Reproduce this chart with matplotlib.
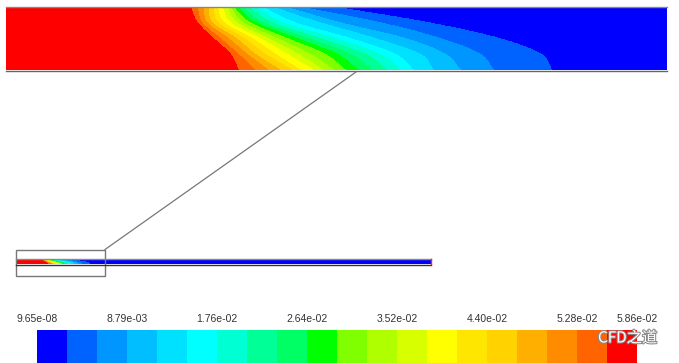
import numpy as np
import matplotlib
matplotlib.use("Agg")
import matplotlib.pyplot as plt
import matplotlib.patheffects as pe
from matplotlib.patches import Rectangle

plt.rcParams['font.family'] = ['Liberation Sans', 'DejaVu Sans']

# contour range and band colours (Fluent-style rainbow, 20 bands)
vmin = 9.65e-08
vmax = 5.862e-02
n_bands = 20
levels = np.linspace(vmin, vmax, n_bands + 1)
band_colors = ['#0000ff', '#0062ff', '#0096ff', '#00beff', '#00e1ff',
               '#00ffff', '#00ffd2', '#00ff96', '#00ff64', '#00ff00',
               '#80ff00', '#b0ff00', '#d8ff00', '#ffff00', '#ffe600',
               '#ffd200', '#ffaf00', '#ff8c00', '#ff6400', '#ff0000']

# band boundary positions (x, px in zoomed view) read at 5 heights, top -> bottom
# each row: boundary 1|2 ... 19|20
row_heights = [0.0, 0.25, 0.5, 0.75, 1.0]
bounds_s0 = [335, 300, 285, 272, 262, 255, 248, 242, 237, 233, 230, 227, 222, 217, 213, 208, 203, 197, 190]
bounds_s25 = [430, 380, 340, 320, 295, 283, 272, 263, 256, 250, 243, 237, 230, 224, 218, 212, 207, 202, 197]
bounds_s50 = [500, 440, 405, 375, 350, 335, 320, 308, 297, 287, 277, 268, 260, 252, 244, 236, 228, 220, 213]
bounds_s75 = [541, 480, 445, 420, 395, 380, 365, 350, 337, 325, 310, 298, 287, 275, 265, 255, 247, 238, 230]
bounds_s100 = [552, 493, 460, 433, 413, 400, 387, 372, 358, 345, 333, 323, 313, 300, 292, 280, 268, 255, 238]


def smooth_interp(s, knots, vals):
    # catmull-rom through the read points so the fronts don't kink
    knots = np.asarray(knots, float)
    vals = np.asarray(vals, float)
    slopes = np.gradient(vals, knots)
    i = np.clip(np.searchsorted(knots, s) - 1, 0, len(knots) - 2)
    h = knots[i + 1] - knots[i]
    t = (s - knots[i]) / h
    h00 = 2 * t**3 - 3 * t**2 + 1
    h10 = t**3 - 2 * t**2 + t
    h01 = -2 * t**3 + 3 * t**2
    h11 = t**3 - t**2
    return h00 * vals[i] + h10 * h * slopes[i] + h01 * vals[i + 1] + h11 * h * slopes[i + 1]


def build_field(x, s):
    rows = np.array([bounds_s0, bounds_s25, bounds_s50, bounds_s75, bounds_s100], float)
    field = np.zeros((len(s), len(x)))
    for i, si in enumerate(s):
        b = np.array([smooth_interp(si, row_heights, rows[:, k]) for k in range(rows.shape[1])])
        # boundaries go right->left as level rises, interp needs ascending x
        field[i] = np.interp(x, b[::-1], levels[1:20][::-1], left=vmax, right=vmin)
    return field


# zoomed view placement (pixels)
zx0, zx1, zy0, zy1 = 6, 667, 7, 70
# whole pipe placement
px0, px1, py0, py1 = 16, 431, 259, 264
box_x1 = 105

xs = np.linspace(zx0, zx1, 900)
ss = np.linspace(0, 1, 160)
Z = build_field(xs, ss)

fig = plt.figure(figsize=(6.79, 3.63), dpi=100)
ax = fig.add_axes([0, 0, 1, 1])
ax.set_xlim(0, 679)
ax.set_ylim(363, 0)
ax.axis('off')

# zoomed contour
X, Y = np.meshgrid(xs, zy0 + ss * (zy1 - zy0))
cs = ax.contourf(X, Y, Z, levels=levels, colors=band_colors, antialiased=False)
ax.plot([zx0, zx1], [zy0 - 0.5, zy0 - 0.5], color='#888888', lw=1)
ax.plot([zx0, zx1], [zy1 + 0.5, zy1 + 0.5], color='#666666', lw=1)

# whole pipe: same field squeezed into the boxed part, blue further on
Xp = px0 + (X - zx0) / (zx1 - zx0) * (box_x1 - px0)
Yp = py0 + (Y - zy0) / (zy1 - zy0) * (py1 - py0)
ax.contourf(Xp, Yp, Z, levels=levels, colors=band_colors, antialiased=False)
ax.add_patch(Rectangle((box_x1, py0), px1 - box_x1, py1 - py0, facecolor=band_colors[0], edgecolor='none'))
ax.plot([px0, px1], [py0 - 0.5, py0 - 0.5], color='#888888', lw=1)
ax.plot([px0, px1], [py1 + 0.5, py1 + 0.5], color='#333333', lw=1)
ax.plot([px1, px1], [py0, py1], color='#ff2020', lw=1)

# zoom box and leader line
ax.add_patch(Rectangle((16, 249.5), box_x1 - 16, 26.5, fill=False, edgecolor='#777777', lw=1))
ax.plot([box_x1, 356], [249.5, 72], color='#777777', lw=0.9)

# colour bar
cax = fig.add_axes([37 / 679, 0, 600 / 679, 33 / 363])
cbar = fig.colorbar(cs, cax=cax, orientation='horizontal')
cbar.outline.set_visible(False)
tick_vals = list(levels[::3]) + [levels[-1]]
cbar.set_ticks(tick_vals)
cbar.set_ticklabels(['%.2e' % v for v in tick_vals])
cax.xaxis.set_ticks_position('top')
cax.tick_params(axis='x', length=0, pad=4, labelsize=7.5, labelcolor='#333333')

# watermark (on top of the colour bar)
fig.text(598 / 679, 1 - 338 / 363, 'CFD之道', fontsize=11, color='white', va='center', ha='left',
         family=['Noto Sans CJK SC', 'DejaVu Sans'], zorder=10,
         path_effects=[pe.withStroke(linewidth=1.5, foreground='#888888')])

fig.savefig('out.png', dpi=100)
